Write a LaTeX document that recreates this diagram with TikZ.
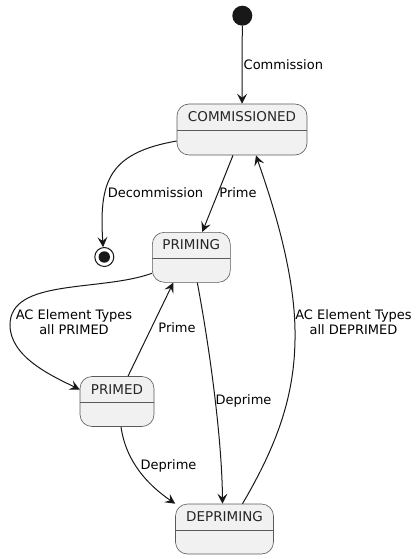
\documentclass[tikz,border=0pt]{standalone}
\usepackage{fontspec}
\setmainfont{DejaVu Sans}
\usetikzlibrary{arrows.meta}
\definecolor{sfill}{HTML}{F1F1F1}
\definecolor{sline}{HTML}{181818}
\definecolor{sborder}{HTML}{5A5A5A}
\begin{document}
\begin{tikzpicture}[x=1pt,y=-1pt,
  state/.style={draw=sborder, line width=0.6pt, fill=sfill, rounded corners=12pt,
    inner sep=0pt, minimum height=50pt,
    path picture={\draw[sborder, line width=0.6pt]
      ([yshift=-26pt]path picture bounding box.north west) --
      ([yshift=-26pt]path picture bounding box.north east);}},
  stext/.style={anchor=center, yshift=-13pt, font=\fontsize{13.5}{16}\selectfont,
    text height=9.8pt, text depth=0pt, inner sep=0pt, text=black!85},
  lab/.style={font=\fontsize{13}{15}\selectfont, text height=9.5pt, text depth=0pt,
    inner sep=0pt, align=center, text=black},
  edge/.style={draw=sline, line width=1pt,
    -{Stealth[length=10pt,width=10pt,inset=4pt]}}
]
\useasboundingbox (0,0) rectangle (419,559);

% initial and final
\node[circle, fill=sline, minimum size=20pt, inner sep=0pt] (init) at (242.3,15.7) {};
\node[circle, draw=sline, line width=1pt, fill=white, minimum size=19pt, inner sep=0pt,
  path picture={\fill[sline] (path picture bounding box.center) circle (5.7pt);}]
  (fin) at (104.3,257) {};

% states
\node[state, minimum width=130pt, minimum height=51pt,
  label={[stext]north:COMMISSIONED}] (comm) at (242,129.5) {};
\node[state, minimum width=78pt,
  label={[stext]north:PRIMING}] (priming) at (191.3,257.3) {};
\node[state, minimum width=74pt,
  label={[stext]north:PRIMED}] (primed) at (117,401.5) {};
\node[state, minimum width=98pt,
  label={[stext]north:DEPRIMING}] (depriming) at (224.5,529) {};

% edges
\draw[edge] (init) -- (comm);
\draw[edge] ([yshift=-11.5pt]comm.west) .. controls (108,153) and (99,182) .. (fin.97);
\draw[edge] ([xshift=-9pt]comm.south) -- ([xshift=11pt]priming.north);
\draw[edge] ([yshift=-16pt]priming.west) .. controls (100,292) and (10,278) .. (10,325)
  .. controls (10,357) and (52,376) .. ([yshift=12pt]primed.west);
\draw[edge] ([xshift=11pt]primed.north) -- ([xshift=-18pt]priming.south);
\draw[edge] ([xshift=6pt]priming.south) .. controls (210,350) and (222,440) .. ([xshift=-2pt]depriming.north);
\draw[edge] ([xshift=4pt]primed.south) .. controls (126,462) and (148,485) .. (depriming.north west);
\draw[edge] ([xshift=18pt]depriming.north) .. controls (280,440) and (296,390) .. (295,330)
  .. controls (294,262) and (266,185) .. ([xshift=14pt]comm.south);

% labels
\node[lab, anchor=west] (l1) at (243.5,64.5) {Commission};
\node[lab] (l2) at (155.5,193) {Decommission};
\node[lab] (l3) at (238,193) {Prime};
\node[lab] (l4) at (74,330) {AC Element Types\\all PRIMED};
\node[lab] (l5) at (177,328) {Prime};
\node[lab] (l6) at (243.5,400) {Deprime};
\node[lab] (l7) at (168.5,464.5) {Deprime};
\node[lab] (l8) at (353.5,330) {AC Element Types\\all DEPRIMED};
\end{tikzpicture}
\end{document}
